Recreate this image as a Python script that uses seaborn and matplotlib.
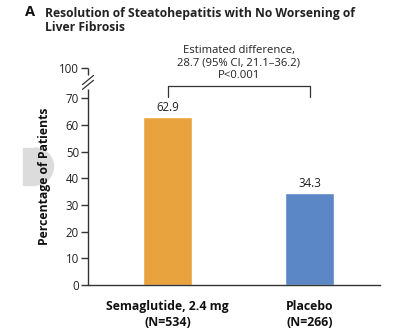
import matplotlib
matplotlib.use("Agg")
import matplotlib.pyplot as plt
import seaborn as sns
import pandas as pd
from matplotlib.patches import Rectangle, Wedge

categories = ["Semaglutide, 2.4 mg\n(N=534)", "Placebo\n(N=266)"]
values = [62.9, 34.3]
value_labels = ["62.9", "34.3"]
colors = ["#E8A23E", "#5B87C6"]
yticks = [0, 10, 20, 30, 40, 50, 60, 70]
top_tick_label = "100"

sns.set_theme(style="white")
plt.rcParams["font.family"] = ["Open Sans", "DejaVu Sans"]

W, H = 399, 334
fig = plt.figure(figsize=(W / 100, H / 100), dpi=100)
left_px, right_px, top_px, bottom_px = 88, 380, 68, 285
ax = fig.add_axes([left_px / W, 1 - bottom_px / H, (right_px - left_px) / W, (bottom_px - top_px) / H])

df = pd.DataFrame({"group": categories, "pct": values})
sns.barplot(data=df, x="group", y="pct", hue="group", palette=colors, width=0.345,
            legend=False, ax=ax, saturation=1)

ymax = 81.3
ax.set_ylim(0, ymax)
ax.set_xlim(-0.56, 1.496)

for s in ["top", "right", "left"]:
    ax.spines[s].set_visible(False)
ax.spines["bottom"].set_color("#333333")
ax.spines["bottom"].set_linewidth(1.0)

ax.set_yticks(yticks + [ymax])
ax.set_yticklabels([str(t) for t in yticks] + [top_tick_label])
ax.tick_params(axis="y", left=True, length=5, width=1.0, color="#333333",
               labelsize=8.3, labelcolor="#222222", pad=1.5)
ax.tick_params(axis="x", bottom=False, labelsize=8.8, pad=5)
for lab in ax.get_xticklabels():
    lab.set_fontweight("bold")
    lab.set_color("#111111")
    lab.set_linespacing(1.25)
ax.set_xlabel("")
ax.set_ylabel("Percentage of Patients", fontsize=8.8, fontweight="bold", color="#111111", labelpad=6)

# broken left axis
yt = ax.get_yaxis_transform()
ax.plot([0, 0], [0, 73.3], color="#333333", lw=1.0, transform=yt, clip_on=False, solid_capstyle="butt")
ax.plot([0, 0], [78.8, ymax], color="#333333", lw=1.0, transform=yt, clip_on=False, solid_capstyle="butt")
dx = 5.5 / (right_px - left_px)
for yc in (75.0, 76.8):
    ax.plot([-dx, dx], [yc - 1.7, yc + 1.7], color="#333333", lw=0.9, transform=yt, clip_on=False)

# value labels
for i, (v, t) in enumerate(zip(values, value_labels)):
    ax.text(i, v + 1.3, t, ha="center", va="bottom", fontsize=8.3, color="#222222")

# bracket
ax.plot([0, 0, 1, 1], [70.4, 74.6, 74.6, 70.4], color="#333333", lw=0.9, clip_on=False)
ax.text(0.5, 76.3, "Estimated difference,\n28.7 (95% CI, 21.1\u201336.2)\nP<0.001",
        ha="center", va="bottom", fontsize=8.1, color="#222222", linespacing=1.2)

# title
fig.text(25 / W, 1 - 16.5 / H, "A", fontsize=10.5, fontweight="bold", color="#111111", va="baseline")
fig.text(45 / W, 1 - 16.5 / H, "Resolution of Steatohepatitis with No Worsening of",
         fontsize=8.7, fontweight="bold", color="#222222", va="baseline")
fig.text(45 / W, 1 - 31 / H, "Liver Fibrosis",
         fontsize=8.7, fontweight="bold", color="#222222", va="baseline")

# gray tab artifact
gx0, gx1, gy0, gy1 = 23, 35, 148, 185
fig.patches.append(Rectangle((gx0 / W, 1 - gy1 / H), (gx1 - gx0) / W, (gy1 - gy0) / H,
                             transform=fig.transFigure, color="#dcdcdc", zorder=-1))
r = (gy1 - gy0) / 2
fig.patches.append(Wedge((gx1, H - (gy0 + gy1) / 2), r, -90, 90, transform=None,
                         color="#dcdcdc", zorder=-1))

fig.savefig("out.png", dpi=100)
